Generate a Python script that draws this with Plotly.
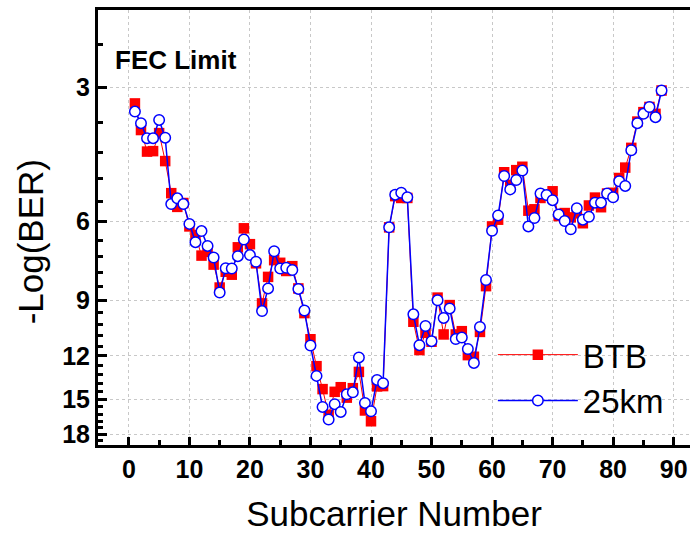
import math
import plotly.graph_objects as go

# Subcarrier index and measured -Log(BER) per subcarrier
subcarrier = list(range(1, 89))

btb = [3.26, 3.74, 4.18, 4.17, 3.80, 4.39, 5.18, 5.56, 5.45, 6.15,
       6.43, 7.15, 7.01, 7.49, 8.43, 7.77, 7.89, 6.85, 6.21, 6.74,
       7.44, 9.15, 7.98, 7.32, 7.42, 7.74, 7.55, 8.47, 9.62, 11.01,
       12.65, 14.24, 16.26, 14.44, 14.10, 14.88, 14.17, 13.03, 15.90, 16.81,
       14.04, 14.02, 6.18, 5.26, 5.31, 5.31, 10.06, 11.64, 10.65, 11.15,
       8.88, 10.74, 9.23, 10.74, 10.56, 11.95, 12.05, 10.60, 8.37, 6.15,
       5.94, 4.65, 4.96, 4.60, 4.52, 5.67, 5.63, 5.31, 5.24, 5.13,
       5.83, 5.74, 5.87, 5.75, 6.05, 5.52, 5.30, 5.57, 5.19, 5.17,
       4.79, 4.54, 4.10, 3.58, 3.41, 3.32, 3.44, 3.05]

km25 = [3.40, 3.61, 3.90, 3.90, 3.55, 3.89, 5.48, 5.32, 5.48, 6.07,
        6.67, 6.30, 6.80, 7.22, 8.65, 7.63, 7.64, 7.17, 6.58, 7.13,
        7.38, 9.52, 8.47, 6.99, 7.64, 7.61, 7.70, 8.49, 9.49, 11.37,
        13.30, 15.61, 16.66, 15.39, 16.02, 14.62, 14.48, 12.09, 15.29, 15.96,
        13.58, 13.81, 6.18, 5.22, 5.17, 5.29, 9.68, 11.35, 10.28, 11.12,
        9.00, 9.86, 9.39, 11.00, 10.91, 11.58, 12.44, 10.33, 8.11, 6.29,
        5.81, 4.74, 5.08, 4.84, 4.61, 6.15, 5.89, 5.19, 5.23, 5.37,
        5.78, 5.98, 6.24, 5.60, 5.94, 5.85, 5.44, 5.44, 5.19, 5.29,
        4.87, 4.99, 4.15, 3.61, 3.44, 3.32, 3.50, 3.05]

fec_limit = 3
x_ticks = list(range(0, 100, 10))
y_ticks = [3, 6, 9, 12, 15, 18]
y_minor = [2.4, 3.6, 4.2, 4.8, 5.4, 6.6, 7.2, 7.8, 8.4, 9.6, 10.2, 10.8, 11.4,
           12.6, 13.2, 13.8, 14.4, 15.6, 16.2, 16.8, 17.4, 18.6]

tick_font = dict(family="Liberation Sans Narrow, Arial Narrow, Liberation Sans, Arial",
                 size=25, color="black", weight="bold")
title_font = dict(family="Liberation Sans, Arial", size=35, color="black")

fig = go.Figure()

fig.add_trace(go.Scatter(
    x=subcarrier, y=btb, name="BTB", mode="lines+markers",
    line=dict(color="#ff0000", width=1),
    marker=dict(symbol="square", size=10.5, color="#ff0000", line=dict(width=0)),
))
fig.add_trace(go.Scatter(
    x=subcarrier, y=km25, name="25km", mode="lines+markers",
    line=dict(color="#0000ff", width=1.5),
    marker=dict(symbol="circle", size=10.5, color="white",
                line=dict(color="#0000ff", width=1.5)),
))

# FEC threshold line and label
fig.add_shape(type="line", xref="paper", x0=0, x1=1, yref="y",
              y0=math.log10(fec_limit), y1=math.log10(fec_limit),
              line=dict(color="black", width=2.5, dash="15px,9px"))
fig.add_annotation(text="<b>FEC Limit</b>", xref="paper", x=0.025, xanchor="left",
                   yref="y", y=math.log10(2.6), yanchor="middle", showarrow=False,
                   font=dict(family="Liberation Sans, Arial", size=26, color="black"))

# y-axis title, placed as rotated text left of the axis
fig.add_annotation(text="-Log(BER)", xref="paper", x=-0.115, xanchor="center",
                   yref="paper", y=0.468, yanchor="middle", showarrow=False,
                   textangle=-90, font=title_font)

fig.update_layout(
    width=690, height=533,
    margin=dict(l=98, r=0, t=10, b=88),
    paper_bgcolor="white", plot_bgcolor="white",
    showlegend=True,
    legend=dict(x=0.667, xanchor="left", y=0.272, yanchor="top",
                font=dict(family="Liberation Sans, Arial", size=33, color="black"),
                bgcolor="rgba(0,0,0,0)", itemwidth=80, tracegroupgap=0),
    xaxis=dict(
        range=[-5.1, 92.7], tickmode="array", tickvals=x_ticks,
        ticks="inside", ticklen=8, tickwidth=2.5, tickcolor="black",
        showline=True, linewidth=3, linecolor="black", mirror=True,
        showgrid=True, gridcolor="#c8c8c8", griddash="dot", gridwidth=1,
        zeroline=False, tickfont=tick_font,
        minor=dict(dtick=5, tick0=0, ticks="inside", ticklen=5, tickwidth=2.5,
                   tickcolor="black", showgrid=False),
        title=dict(text="Subcarrier Number", font=title_font, standoff=20),
    ),
    yaxis=dict(
        type="log", range=[math.log10(19.0), math.log10(2.013)],
        tickmode="array", tickvals=y_ticks, ticktext=[str(v) for v in y_ticks],
        ticks="inside", ticklen=9, tickwidth=2.5, tickcolor="black",
        showline=True, linewidth=3, linecolor="black", mirror=False,
        showgrid=True, gridcolor="#c8c8c8", griddash="dot", gridwidth=1,
        zeroline=False, tickfont=tick_font,
        minor=dict(tickvals=y_minor, ticks="inside", ticklen=5, tickwidth=2.5,
                   tickcolor="black", showgrid=False),
    ),
)

fig.write_html("out.html")
